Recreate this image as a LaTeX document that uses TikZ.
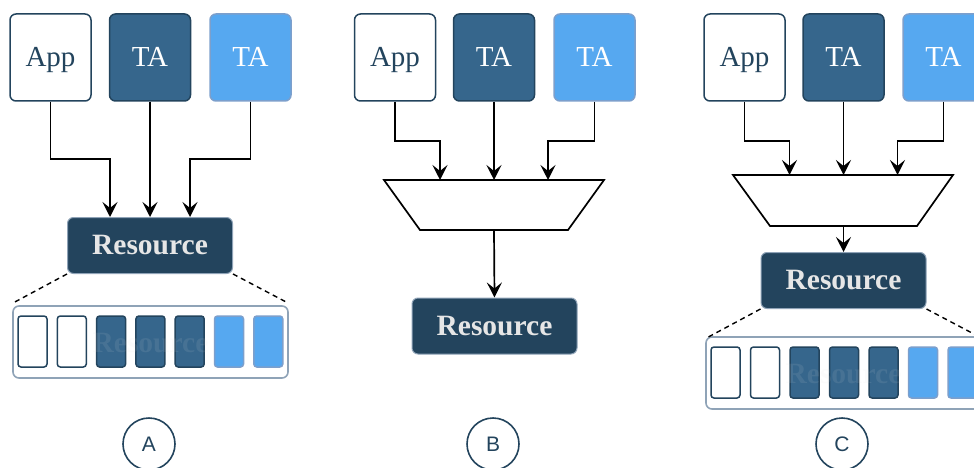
\documentclass[tikz,border=0pt]{standalone}
\usepackage{fontspec}
\setmainfont{Liberation Serif}
\newfontfamily\labelfont{Liberation Sans}
\usetikzlibrary{arrows.meta,calc}
\definecolor{navy}{HTML}{23445D}
\definecolor{midblue}{HTML}{36668C}
\definecolor{skyblue}{HTML}{56A8F0}
\definecolor{skyedge}{HTML}{7C9FCC}
\definecolor{frameedge}{HTML}{8FA3B7}
\definecolor{restext}{HTML}{E6E6E6}
\begin{document}
\begin{tikzpicture}[x=1pt,y=-1pt,
  party/.style={rounded corners=6pt, minimum width=81pt, minimum height=87pt,
    inner sep=0pt, line width=1.5pt, text height=19pt, text depth=0pt,
    font=\fontsize{29}{32}\selectfont},
  appbox/.style={party, draw=navy, fill=white, text=navy},
  tadark/.style={party, draw=navy, fill=midblue, text=white},
  talight/.style={party, draw=skyedge, fill=skyblue, text=white},
  resbox/.style={rounded corners=6pt, minimum width=165pt, minimum height=56pt,
    inner sep=0pt, draw=frameedge, line width=1pt, fill=navy, text=restext,
    font=\fontsize{29.5}{32}\selectfont\bfseries},
  arr/.style={line width=1.7pt, -{Stealth[length=15pt,width=15pt,inset=6pt]}},
  mux/.style={line width=1.7pt, draw=black, fill=white},
  zoomline/.style={line width=1.4pt, dash pattern=on 5pt off 4pt},
  slotframe/.style={rounded corners=6pt, minimum width=275pt, minimum height=72pt,
    inner sep=0pt, draw=frameedge, line width=1.6pt, fill=white},
  slotbase/.style={rounded corners=3pt, minimum width=29pt, minimum height=51pt,
    inner sep=0pt, line width=1.5pt},
  slotfree/.style={slotbase, draw=navy, fill=white},
  slotdark/.style={slotbase, draw=navy, fill=midblue},
  slotlight/.style={slotbase, draw=skyedge, fill=skyblue},
  ghost/.style={text=gray!25, opacity=0.1, font=\fontsize{29.5}{32}\selectfont\bfseries},
  tag/.style={circle, draw=navy, line width=1.6pt, minimum size=52pt, inner sep=0pt,
    text=navy, font=\labelfont\fontsize{21}{24}\selectfont},
]
\useasboundingbox (0,0) rectangle (974,468);
\clip (0,0) rectangle (974,468);

% ---------- Variant A: parties share the resource directly ----------
\node[appbox]  (appA) at (50.5,57.5)  {App};
\node[tadark]  (taA)  at (150,57.5)   {TA};
\node[talight] (tlA)  at (250.5,57.5) {TA};
\node[resbox]  (resA) at (150,245.5)  {Resource};
\draw[arr] (appA.south) -- ++(0,57) -| ([xshift=-40pt]resA.north);
\draw[arr] (taA.south) -- (resA.north);
\draw[arr] (tlA.south) -- ++(0,57) -| ([xshift=40pt]resA.north);

\node[slotframe] (frameA) at (150.5,342) {};
\draw[zoomline] (resA.south west) -- ++(-54,29);
\draw[zoomline] (resA.south east) -- ++(55,29);
\foreach \k/\s in {0/slotfree,1/slotfree,2/slotdark,3/slotdark,4/slotdark,5/slotlight,6/slotlight}{
  \node[\s] (sA\k) at ({32.5+39.3*\k},341.5) {};
}
\node[ghost] (wmA) at (150.5,343) {Resource};
\node[tag] (tagA) at (149,444) {A};

% ---------- Variant B: a multiplexer in front of the resource ----------
\node[appbox]  (appB) at (395,57.5)   {App};
\node[tadark]  (taB)  at (494,57.5)   {TA};
\node[talight] (tlB)  at (594.5,57.5) {TA};
\draw[mux] (384,180) -- (604,180) -- (568,230) -- (420,230) -- cycle;
\coordinate (muxBin)  at (494,180);
\coordinate (muxBout) at (494,230);
\node[resbox]  (resB) at (494.5,326) {Resource};
\draw[arr] (appB.south) -- ++(0,39) -| ([xshift=-54pt]muxBin);
\draw[arr] (taB.south) -- (muxBin);
\draw[arr] (tlB.south) -- ++(0,39) -| ([xshift=54pt]muxBin);
\draw[arr] (muxBout) -- (resB.north);
\node[tag] (tagB) at (493,444) {B};

% ---------- Variant C: multiplexer plus partitioned resource ----------
\node[appbox]  (appC) at (744.5,57.5) {App};
\node[tadark]  (taC)  at (843.5,57.5) {TA};
\node[talight] (tlC)  at (943.5,57.5) {TA};
\draw[mux] (733,175) -- (953,175) -- (917,226) -- (770,226) -- cycle;
\coordinate (muxCin)  at (843.5,175);
\coordinate (muxCout) at (843.5,226);
\node[resbox]  (resC) at (843.5,280.5) {Resource};
\draw[arr] (appC.south) -- ++(0,39) -| ([xshift=-54pt]muxCin);
\draw[arr] (taC.south) -- (muxCin);
\draw[arr] (tlC.south) -- ++(0,39) -| ([xshift=54pt]muxCin);
\draw[arr] (muxCout) -- (resC.north);

\node[slotframe] (frameC) at (843.5,373) {};
\draw[zoomline] (resC.south west) -- ++(-54,29);
\draw[zoomline] (resC.south east) -- ++(55,29);
\foreach \k/\s in {0/slotfree,1/slotfree,2/slotdark,3/slotdark,4/slotdark,5/slotlight,6/slotlight}{
  \node[\s] (sC\k) at ({725.5+39.5*\k},372.5) {};
}
\node[ghost] (wmC) at (843.5,374) {Resource};
\node[tag] (tagC) at (842,444) {C};
\end{tikzpicture}
\end{document}
